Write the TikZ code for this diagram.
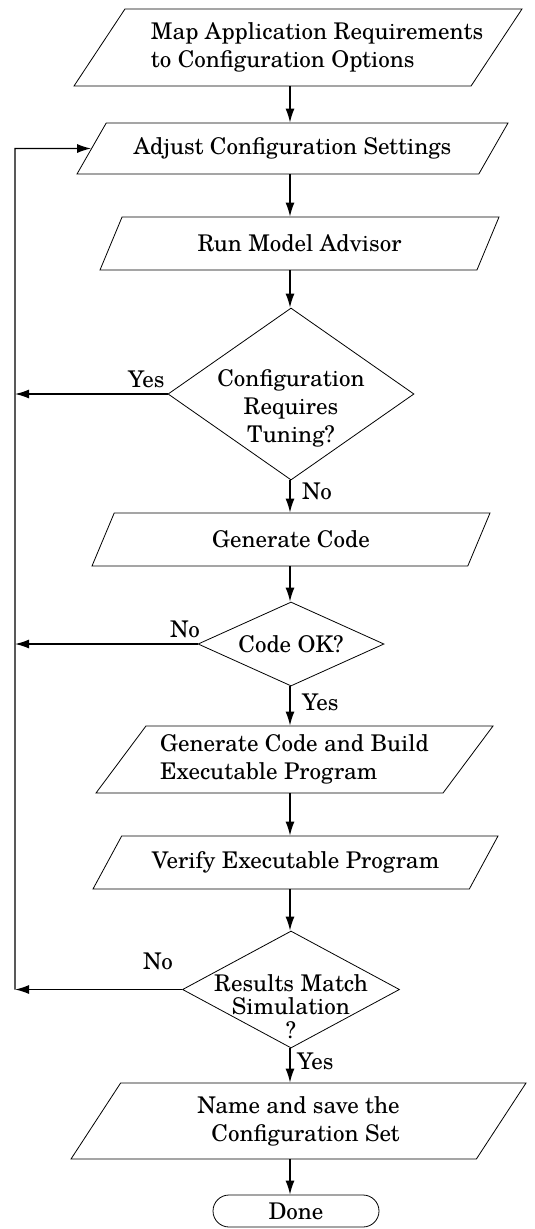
\documentclass[tikz,border=0pt]{standalone}
\usepackage{fontspec}
\setmainfont{TeX Gyre Schola}
\usetikzlibrary{arrows.meta,shapes.geometric,shapes.misc}

\begin{document}
\begin{tikzpicture}[x=1pt, y=-1pt, >={Latex[length=14pt,width=9pt]},
    font=\fontsize{23}{28}\selectfont,
    io/.style 2 args={draw, line width=0.8pt, trapezium, trapezium left angle=#1,
        trapezium right angle=#2, trapezium stretches body, inner sep=0pt, align=center},
    decision/.style={draw, line width=0.8pt, diamond},
    terminal/.style={draw, line width=0.8pt, rounded rectangle, minimum width=166pt,
        minimum height=32pt, inner sep=0pt},
    conn/.style={->, line width=1.4pt},
    lbl/.style={inner sep=0pt, anchor=base west}]
    \useasboundingbox (0,0) rectangle (535,1229);
    \coordinate (spine) at (290,0);
    \coordinate (back) at (15,0);

    \node[io={47.7}{132.3}, minimum width=448pt, minimum height=77pt] (map) at (298,47.5)
        {\kern19pt\begin{tabular}{@{}l@{}}Map Application Requirements\\to Configuration Options\end{tabular}\kern-19pt};
    \node[io={36.5}{143.5}, minimum width=431pt, minimum height=51pt] (adjust) at (292.5,148.5)
        {Adjust Configuration Settings};
    \node[io={38.1}{141.9}, minimum width=399pt, minimum height=53pt] (advisor) at (299.5,243.5)
        {Run Model Advisor};
    \node[decision, aspect=1.43, minimum width=246pt, minimum height=172pt, inner sep=-12pt] (tuning) at (291,394)
        {\raisebox{-15pt}[\height][\depth]{\begin{tabular}{@{}c@{}}Configuration\\Requires\\Tuning?\end{tabular}}};
    \node[io={37.9}{142.1}, minimum width=398pt, minimum height=53pt] (gencode) at (291,539.5)
        {Generate Code};
    \node[decision, aspect=2.2, minimum width=186pt, minimum height=84pt, inner sep=0pt] (codeok) at (291,644)
        {Code OK?};
    \node[io={44.8}{135.2}, minimum width=397pt, minimum height=67pt, align=left] (build) at (294.5,759.5)
        {Generate Code and Build\\Executable Program};
    \node[io={37.1}{142.9}, minimum width=405pt, minimum height=53pt] (verify) at (295.5,862.5)
        {Verify Executable Program};
    \node[decision, aspect=1.85, minimum width=217pt, minimum height=117pt, inner sep=-20pt,
        font=\fontsize{23}{22}\selectfont] (match) at (291,989.5)
        {\raisebox{-20pt}[\height][\depth]{\begin{tabular}{@{}c@{}}Results Match\\Simulation\\?\end{tabular}}};
    \node[io={45}{135}, minimum width=455pt, minimum height=76pt, align=right] (save) at (298.5,1121)
        {Name and save the\\Configuration Set};
    \node[terminal] (done) at (296,1211) {Done};

    \foreach \s/\t in {map/adjust, adjust/advisor, advisor/tuning, tuning/gencode, gencode/codeok,
        codeok/build, build/verify, verify/match, match/save, save/done}
        \draw[conn] (\s.south -| spine) -- (\t.north -| spine);

    \draw[conn] (tuning) -- (tuning -| back);
    \draw[conn] (codeok) -- (codeok -| back);
    \draw[conn] (match) -- (match -| back);
    \draw[conn] (match -| back) -- (back |- adjust) -- (adjust);

    \node[lbl] (yes1) at (128,387) {Yes};
    \node[lbl] (no1) at (302,499) {No};
    \node[lbl] (no2) at (170,637) {No};
    \node[lbl] (yes2) at (302,710) {Yes};
    \node[lbl] (no3) at (143,969) {No};
    \node[lbl] (yes3) at (297,1069) {Yes};
\end{tikzpicture}
\end{document}
